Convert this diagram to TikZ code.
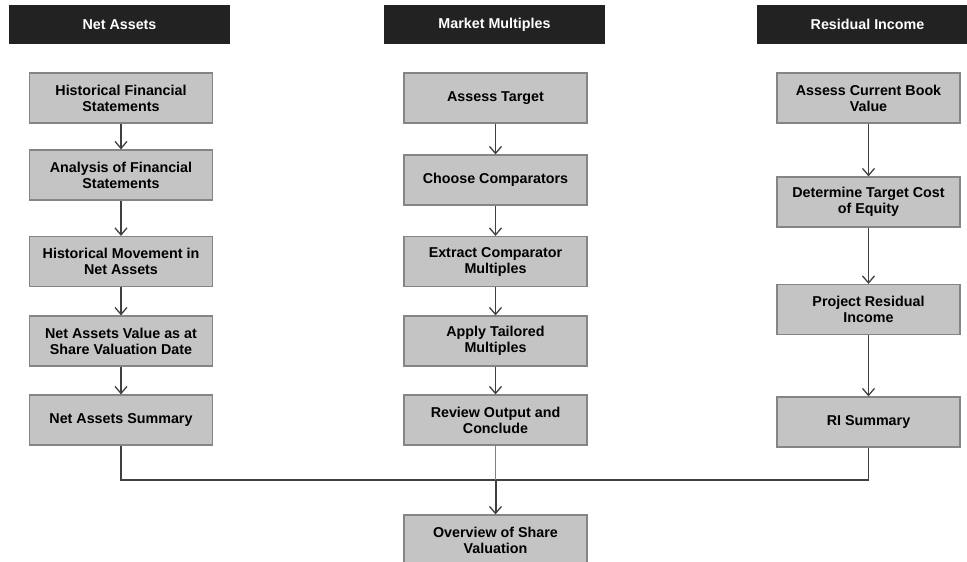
\documentclass[tikz,border=0pt]{standalone}
\usepackage{fontspec}
\setmainfont{Liberation Sans}
\usetikzlibrary{arrows.meta}
\definecolor{boxgray}{HTML}{C4C4C4}
\definecolor{edgegray}{HTML}{858585}
\definecolor{linegray}{HTML}{404040}
\definecolor{hdrblack}{HTML}{222222}

\begin{document}
\begin{tikzpicture}[x=1pt,y=-1pt,
  stepbox/.style={draw=edgegray,line width=1.2pt,fill=boxgray,minimum width=183pt,minimum height=50pt,
    inner sep=0pt,align=center,font=\fontsize{14.3}{16}\selectfont\bfseries},
  hdr/.style={fill=hdrblack,text=white,minimum width=221pt,minimum height=39pt,inner sep=0pt,
    font=\fontsize{14.3}{16}\selectfont\bfseries},
  flow/.style={draw=linegray,line width=1.3pt,-{Straight Barb[length=7pt,width=12pt,line width=1.3pt]}},
  link/.style={draw=linegray,line width=1.3pt}]
\useasboundingbox (0,0) rectangle (967,562);

% headers
\node[hdr] (hNA) at (119.5,24.5) {Net Assets};
\node[hdr] (hMM) at (494.5,24.5) {Market Multiples};
\node[hdr] (hRI) at (867.5,24.5) {Residual Income};

% net assets column
\node[stepbox] (na1) at (121,98) {Historical Financial\\Statements};
\node[stepbox] (na2) at (121,175) {Analysis of Financial\\Statements};
\node[stepbox] (na3) at (121,261.5) {Historical Movement in\\Net Assets};
\node[stepbox] (na4) at (121,341) {Net Assets Value as at\\Share Valuation Date};
\node[stepbox] (na5) at (121,420) {Net Assets Summary};

% market multiples column
\node[stepbox] (mm1) at (495.5,98) {Assess Target};
\node[stepbox] (mm2) at (495.5,180) {Choose Comparators};
\node[stepbox] (mm3) at (495.5,261.5) {Extract Comparator\\Multiples};
\node[stepbox] (mm4) at (495.5,341) {Apply Tailored\\Multiples};
\node[stepbox] (mm5) at (495.5,420) {Review Output and\\Conclude};

% residual income column
\node[stepbox] (ri1) at (868.5,98) {Assess Current Book\\Value};
\node[stepbox] (ri2) at (868.5,202) {Determine Target Cost\\of Equity};
\node[stepbox] (ri3) at (868.5,309.5) {Project Residual\\Income};
\node[stepbox] (ri4) at (868.5,422) {RI Summary};

\node[stepbox] (ov) at (495.5,540) {Overview of Share\\Valuation};

\foreach \a/\b in {na1/na2,na2/na3,na3/na4,na4/na5,
                   mm1/mm2,mm2/mm3,mm3/mm4,mm4/mm5,
                   ri1/ri2,ri2/ri3,ri3/ri4}
{
\draw[flow] (\a) -- (\b);
}

\coordinate (jn) at (495.5,480);
\draw[link] (na5.south) -- (na5.south |- jn) -- (ri4.south |- jn) -- (ri4.south);
\draw[draw=gray,line width=.8pt] (mm5.south) -- (jn);
\draw[flow,line width=2pt] (jn) -- (ov.north);
\end{tikzpicture}
\end{document}
